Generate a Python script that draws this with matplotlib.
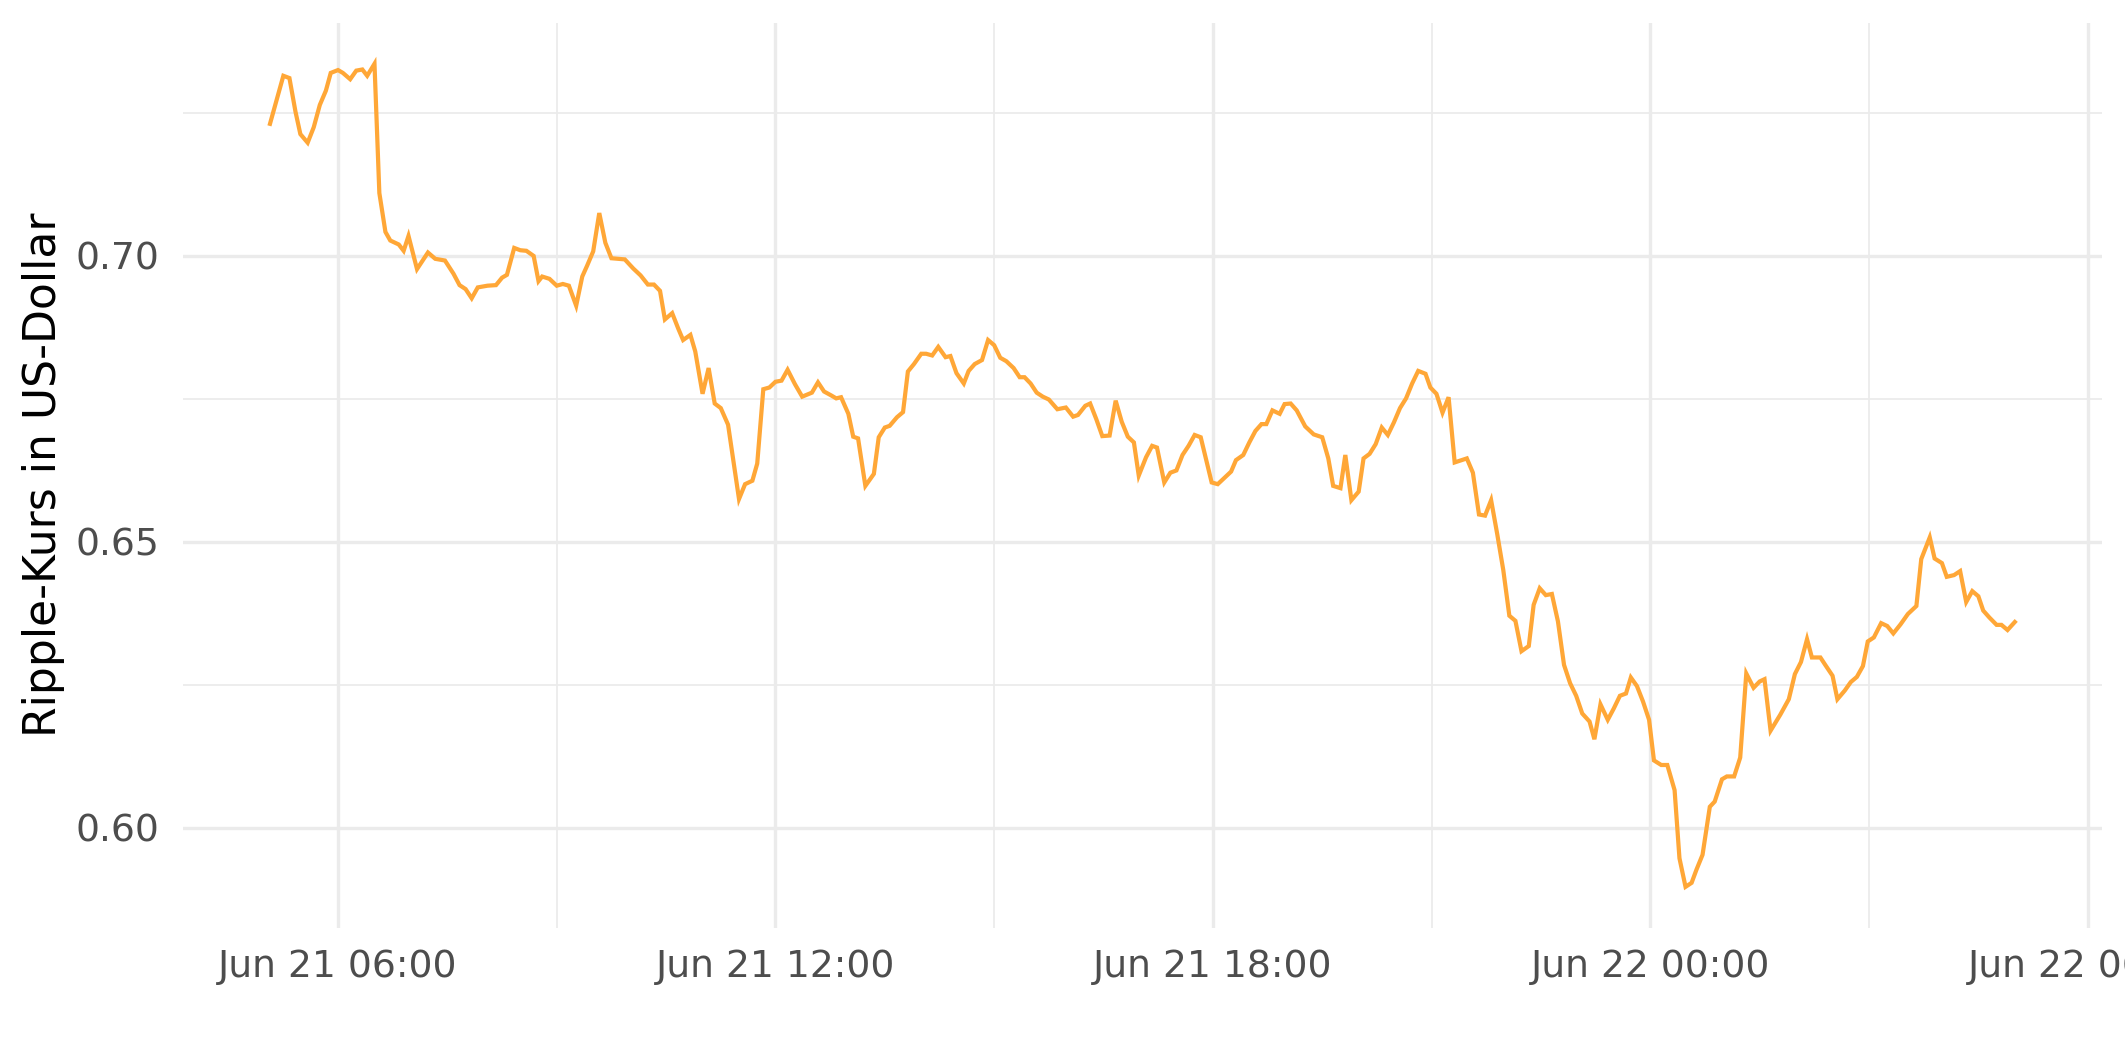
import pandas as pd
import matplotlib
matplotlib.use("Agg")
import matplotlib.pyplot as plt
import matplotlib.dates as mdates
from matplotlib.ticker import MultipleLocator, FormatStrFormatter

# Ripple (XRP) Kurs, 5-Minuten-Werte ab 21. Juni
# minuten = Minuten seit Jun 21 00:00
minuten = [
    304, 315, 320, 325, 329, 335, 340, 345, 350, 354,
    360, 364, 370, 375, 380, 384, 390, 394, 399, 403,
    410, 414, 418, 425, 434, 440, 448, 455, 460, 465,
    470, 475, 483, 490, 495, 499, 505, 510, 515, 521,
    525, 528, 534, 540, 545, 550, 556, 561, 565, 570,
    575, 580, 585, 596, 603, 609, 615, 620, 625, 629,
    635, 640, 644, 650, 654, 660, 665, 670, 675, 681,
    690, 695, 701, 705, 710, 715, 720, 725, 730, 736,
    742, 750, 755, 760, 766, 770, 774, 780, 784, 788,
    794, 801, 805, 810, 814, 820, 825, 829, 834, 840,
    844, 849, 854, 860, 864, 869, 875, 879, 884, 890,
    895, 900, 905, 910, 916, 921, 925, 930, 935, 940,
    945, 952, 959, 965, 969, 975, 979, 984, 989, 995,
    1000, 1005, 1010, 1015, 1019, 1025, 1030, 1034, 1040, 1045,
    1050, 1055, 1060, 1065, 1070, 1079, 1084, 1089, 1095, 1099,
    1105, 1110, 1115, 1120, 1124, 1129, 1135, 1139, 1144, 1149,
    1156, 1163, 1170, 1175, 1179, 1185, 1189, 1194, 1200, 1204,
    1209, 1214, 1219, 1224, 1229, 1234, 1239, 1244, 1249, 1255,
    1259, 1264, 1269, 1274, 1279, 1289, 1294, 1299, 1304, 1309,
    1314, 1319, 1324, 1329, 1334, 1340, 1344, 1349, 1354, 1359,
    1364, 1369, 1374, 1379, 1384, 1390, 1394, 1399, 1405, 1410,
    1415, 1420, 1424, 1429, 1434, 1439, 1443, 1449, 1454, 1460,
    1464, 1469, 1474, 1478, 1483, 1489, 1493, 1499, 1503, 1509,
    1514, 1519, 1525, 1530, 1534, 1539, 1547, 1554, 1559, 1564,
    1569, 1573, 1580, 1584, 1590, 1594, 1600, 1605, 1610, 1615,
    1619, 1624, 1630, 1635, 1640, 1646, 1652, 1659, 1663, 1670,
    1674, 1680, 1684, 1690, 1695, 1700, 1705, 1710, 1714, 1719,
    1725, 1729, 1734, 1740,
]
kurs_usd = [
    0.7231, 0.7315, 0.7311, 0.7252, 0.7213, 0.7198, 0.7225, 0.7264, 0.7289, 0.7320,
    0.7325, 0.7320, 0.7309, 0.7324, 0.7326, 0.7315, 0.7336, 0.7110, 0.7042, 0.7027,
    0.7020, 0.7009, 0.7035, 0.6977, 0.7006, 0.6995, 0.6992, 0.6969, 0.6949, 0.6942,
    0.6926, 0.6945, 0.6948, 0.6949, 0.6962, 0.6967, 0.7014, 0.7010, 0.7009, 0.7000,
    0.6956, 0.6964, 0.6960, 0.6948, 0.6951, 0.6948, 0.6913, 0.6964, 0.6983, 0.7008,
    0.7075, 0.7023, 0.6996, 0.6994, 0.6978, 0.6966, 0.6950, 0.6950, 0.6939, 0.6889,
    0.6900, 0.6873, 0.6853, 0.6862, 0.6833, 0.6759, 0.6804, 0.6742, 0.6734, 0.6705,
    0.6575, 0.6601, 0.6607, 0.6637, 0.6767, 0.6770, 0.6780, 0.6782, 0.6801, 0.6776,
    0.6754, 0.6761, 0.6779, 0.6763, 0.6756, 0.6751, 0.6753, 0.6724, 0.6684, 0.6681,
    0.6598, 0.6619, 0.6683, 0.6700, 0.6703, 0.6718, 0.6727, 0.6798, 0.6811, 0.6829,
    0.6829, 0.6826, 0.6841, 0.6823, 0.6825, 0.6795, 0.6777, 0.6799, 0.6811, 0.6818,
    0.6853, 0.6844, 0.6822, 0.6816, 0.6804, 0.6788, 0.6788, 0.6777, 0.6761, 0.6754,
    0.6749, 0.6732, 0.6735, 0.6719, 0.6722, 0.6738, 0.6742, 0.6715, 0.6685, 0.6686,
    0.6747, 0.6710, 0.6684, 0.6674, 0.6616, 0.6648, 0.6668, 0.6665, 0.6604, 0.6621,
    0.6625, 0.6652, 0.6668, 0.6687, 0.6683, 0.6604, 0.6601, 0.6611, 0.6623, 0.6643,
    0.6652, 0.6674, 0.6694, 0.6706, 0.6706, 0.6730, 0.6724, 0.6741, 0.6742, 0.6730,
    0.6702, 0.6688, 0.6683, 0.6646, 0.6598, 0.6594, 0.6652, 0.6573, 0.6588, 0.6646,
    0.6654, 0.6671, 0.6700, 0.6687, 0.6709, 0.6734, 0.6751, 0.6777, 0.6799, 0.6794,
    0.6770, 0.6759, 0.6726, 0.6753, 0.6639, 0.6646, 0.6621, 0.6548, 0.6546, 0.6573,
    0.6514, 0.6451, 0.6371, 0.6362, 0.6309, 0.6318, 0.6390, 0.6419, 0.6407, 0.6409,
    0.6361, 0.6285, 0.6253, 0.6231, 0.6200, 0.6186, 0.6155, 0.6216, 0.6189, 0.6209,
    0.6231, 0.6235, 0.6263, 0.6248, 0.6221, 0.6189, 0.6118, 0.6110, 0.6110, 0.6066,
    0.5947, 0.5897, 0.5904, 0.5927, 0.5953, 0.6037, 0.6046, 0.6085, 0.6090, 0.6090,
    0.6123, 0.6270, 0.6245, 0.6256, 0.6260, 0.6170, 0.6198, 0.6225, 0.6269, 0.6290,
    0.6330, 0.6298, 0.6298, 0.6285, 0.6266, 0.6225, 0.6240, 0.6255, 0.6264, 0.6283,
    0.6326, 0.6333, 0.6358, 0.6353, 0.6340, 0.6356, 0.6374, 0.6388, 0.6470, 0.6508,
    0.6471, 0.6463, 0.6439, 0.6442, 0.6449, 0.6395, 0.6414, 0.6405, 0.6380, 0.6368,
    0.6355, 0.6355, 0.6346, 0.6360,
]
assert len(minuten) == len(kurs_usd)

start = pd.Timestamp("2018-06-21 00:00")
zeit = start + pd.to_timedelta(minuten, unit="m")

fig = plt.figure(figsize=(2125 / 288, 1062 / 288), dpi=288)
ax = fig.add_axes([0.0860, 0.1262, 0.9032, 0.8525])

ax.plot(zeit, kurs_usd, color="#FFA737", linewidth=1.05, solid_joinstyle="miter")

# ggplot-artige Achsenerweiterung (5 %)
x0, x1 = zeit.min(), zeit.max()
dx = (x1 - x0) * 0.05
ax.set_xlim(x0 - dx, x1 + dx)
y0, y1 = min(kurs_usd), max(kurs_usd)
dy = (y1 - y0) * 0.05
ax.set_ylim(y0 - dy, y1 + dy)

ax.xaxis.set_major_locator(mdates.HourLocator(byhour=[0, 6, 12, 18]))
ax.xaxis.set_minor_locator(mdates.HourLocator(byhour=[3, 9, 15, 21]))
ax.xaxis.set_major_formatter(mdates.DateFormatter("%b %d %H:%M"))
ax.yaxis.set_major_locator(MultipleLocator(0.05))
ax.yaxis.set_minor_locator(MultipleLocator(0.025))
ax.yaxis.set_major_formatter(FormatStrFormatter("%.2f"))

ax.grid(which="major", color="#EBEBEB", linewidth=0.85)
ax.grid(which="minor", color="#EBEBEB", linewidth=0.45)
ax.set_axisbelow(True)
for s in ax.spines.values():
    s.set_visible(False)

ax.tick_params(which="both", length=0, labelsize=9.4, labelcolor="#4D4D4D")
ax.tick_params(axis="x", pad=5.3)
ax.tick_params(axis="y", pad=5.8)

fig.text(44 / 2125, 1 - 475 / 1062, "Ripple-Kurs in US-Dollar", rotation=90,
         ha="center", va="center", fontsize=11, color="black")

fig.savefig("out.png", dpi=288)
